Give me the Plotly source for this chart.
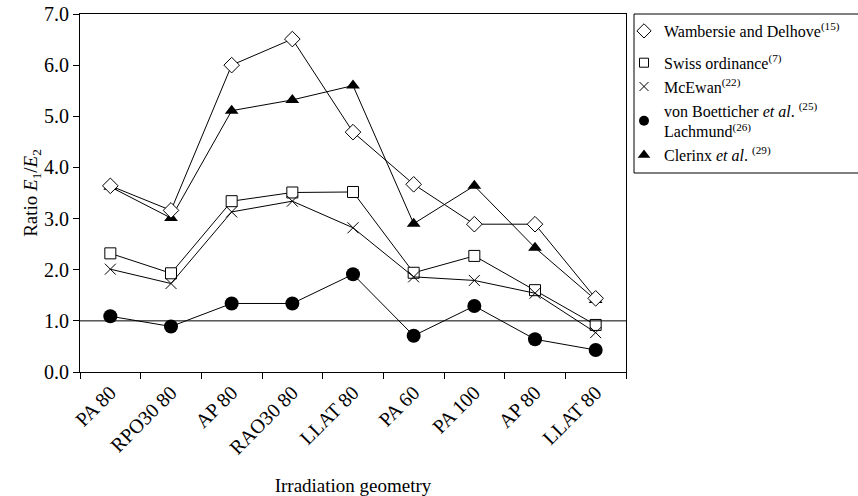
import plotly.graph_objects as go

geometries = ["PA 80", "RPO30 80", "AP 80", "RAO30 80", "LLAT 80", "PA 60", "PA 100", "AP 80", "LLAT 80"]
wambersie = [3.64, 3.16, 6.00, 6.51, 4.69, 3.67, 2.89, 2.89, 1.44]
swiss = [2.32, 1.93, 3.34, 3.51, 3.52, 1.94, 2.27, 1.60, 0.92]
mcewan = [2.01, 1.73, 3.13, 3.34, 2.82, 1.86, 1.79, 1.54, 0.77]
boetticher = [1.09, 0.89, 1.34, 1.34, 1.91, 0.71, 1.29, 0.64, 0.43]
clerinx = [3.62, 3.01, 5.11, 5.32, 5.60, 2.90, 3.64, 2.43, 1.41]

names = [
    "Wambersie and Delhove<sup>(15)</sup>",
    "Swiss ordinance<sup>(7)</sup>",
    "McEwan<sup>(22)</sup>",
    "von Boetticher <i>et al</i>. <sup>(25)</sup><br>Lachmund<sup>(26)</sup>",
    "Clerinx <i>et al</i>. <sup>(29)</sup>",
]

xs = list(range(len(geometries)))
FONT = "Liberation Serif, Times New Roman, serif"

styles = [
    dict(symbol="diamond", size=12, color="white", line=dict(color="black", width=1)),
    dict(symbol="square", size=11, color="white", line=dict(color="black", width=1)),
    dict(symbol="x-thin", size=11, color="black", line=dict(color="black", width=1)),
    dict(symbol="circle", size=14, color="black", line=dict(color="black", width=0)),
    dict(symbol="triangle-up", size=12, color="black", line=dict(color="black", width=0)),
]
legend_sizes = [11, 9, 9, 10, 11]
series = [wambersie, swiss, mcewan, boetticher, clerinx]
draw_order = [4, 0, 1, 2, 3]

fig = go.Figure()
for i in draw_order:
    fig.add_trace(go.Scatter(
        x=xs, y=series[i], mode="lines+markers",
        line=dict(color="black", width=1),
        marker=styles[i], showlegend=False, hoverinfo="skip",
    ))

for i in range(5):
    m = dict(styles[i])
    m["size"] = legend_sizes[i]
    fig.add_trace(go.Scatter(
        x=[None], y=[None], mode="markers", name=names[i],
        marker=m, legendgroup="a" if i == 0 else "b",
    ))

fig.add_hline(y=1.0, line=dict(color="black", width=1))

W, H = 858, 496
L, R, T, B = 80, 232, 14, 124
pw = W - L - R
ph = H - T - B
# legend frame
fig.add_shape(
    type="rect", xref="paper", yref="paper",
    x0=(634 - L) / pw, x1=(900 - L) / pw,
    y0=(H - B - 173) / ph, y1=1.0,
    line=dict(color="black", width=1), fillcolor="rgba(0,0,0,0)", layer="above",
)

fig.update_layout(
    width=W, height=H,
    margin=dict(l=L, r=R, t=T, b=B, autoexpand=False),
    paper_bgcolor="white", plot_bgcolor="white",
    font=dict(family=FONT, size=19, color="black"),
    legend=dict(
        xref="container", yref="container",
        x=624 / W, y=1 - 14 / H, xanchor="left", yanchor="top",
        bgcolor="rgba(0,0,0,0)", borderwidth=0,
        traceorder="grouped", tracegroupgap=8,
        font=dict(family=FONT, size=16, color="black"),
        itemsizing="trace", itemwidth=30,
    ),
    xaxis=dict(
        range=[-0.5, len(geometries) - 0.5],
        tickvals=xs, ticktext=geometries, tickangle=-45,
        ticks="", showgrid=False, zeroline=False,
        showline=True, linecolor="black", linewidth=1, mirror=True,
        minor=dict(tick0=0.5, dtick=1, ticks="outside", ticklen=6, tickcolor="black", showgrid=False),
        tickfont=dict(family=FONT, size=20),
        ticklabeloverflow="allow",
        title=dict(text="Irradiation geometry", font=dict(family=FONT, size=19), standoff=29),
    ),
    yaxis=dict(
        range=[0, 7], dtick=1, tickformat=".1f",
        ticks="outside", ticklen=6, tickcolor="black",
        showgrid=False, zeroline=False,
        showline=True, linecolor="black", linewidth=1, mirror=True,
        tickfont=dict(family=FONT, size=20),
        ticklabeloverflow="allow",
        title=dict(text="Ratio <i>E</i><sub>1</sub>/<i>E</i><sub>2</sub>", font=dict(family=FONT, size=19), standoff=0),
    ),
)

fig.write_html(
    "out.html",
    config={"displayModeBar": False},
    post_script="document.body.style.margin='0';document.body.style.overflow='hidden';",
)
